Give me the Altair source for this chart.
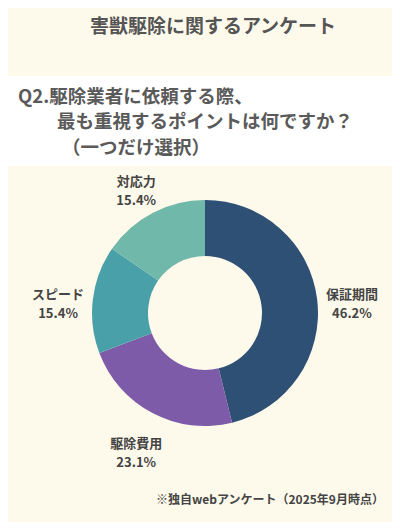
import altair as alt
import pandas as pd

categories = ["保証期間", "駆除費用", "スピード", "対応力"]
values = [46.2, 23.1, 15.4, 15.4]
colors = ["#2E5075", "#7D5BA8", "#4AA0A9", "#70B8A9"]

header = "害獣駆除に関するアンケート"
question = ["Q2.駆除業者に依頼する際、", "最も重視するポイントは何ですか？", "（一つだけ選択）"]
footnote = "※独自webアンケート（2025年9月時点）"

FONT = "Noto Sans CJK JP"
W, H = 384, 514
CX, CY = 197, 305

df = pd.DataFrame({
    "cat": categories,
    "val": values,
    "order": list(range(len(categories))),
    "label": [f"{c}\n{v:.1f}%" for c, v in zip(categories, values)],
})

band = alt.Chart(pd.DataFrame({"a": [0]})).mark_rect(color="white").encode(
    x=alt.value(-8), x2=alt.value(W), y=alt.value(68), y2=alt.value(158)
)

base = alt.Chart(df).encode(
    theta=alt.Theta("val:Q", stack=True),
    order=alt.Order("order:Q"),
)

arcs = base.mark_arc(innerRadius=57, outerRadius=113, stroke=None).encode(
    color=alt.Color("cat:N", scale=alt.Scale(domain=categories, range=colors), legend=None),
    x=alt.value(CX), y=alt.value(CY),
)

labels = base.mark_text(radius=148, font=FONT, fontWeight="bold", fontSize=13,
                        color="#444444", lineBreak="\n", lineHeight=19,
                        align="center", baseline="middle").encode(
    text="label:N", x=alt.value(CX), y=alt.value(CY),
)

def txt(s, x, y, size, align="left", color="#585858", weight="bold"):
    return alt.Chart(pd.DataFrame({"t": [s]})).mark_text(
        font=FONT, fontSize=size, fontWeight=weight, color=color,
        align=align, baseline="middle"
    ).encode(text="t:N", x=alt.value(x), y=alt.value(y))

layers = [band, arcs, labels,
          txt(header, 205, 19, 19, align="center", color="#555555"),
          txt(question[0], 10, 89, 18.5, color="#5a5a5a"),
          txt(question[1], 49, 114, 18.5, color="#5a5a5a"),
          txt(question[2], 54, 140, 18.5, color="#5a5a5a"),
          txt(footnote, 262, 492, 12, align="center", color="#444444")]

chart = alt.layer(*layers).properties(
    width=W, height=H, background="#FEFAEB",
    autosize=alt.AutoSizeParams(type="none"), padding=0,
).configure_view(stroke=None)

chart.save("out.html", embed_options={"renderer": "svg", "actions": False})
